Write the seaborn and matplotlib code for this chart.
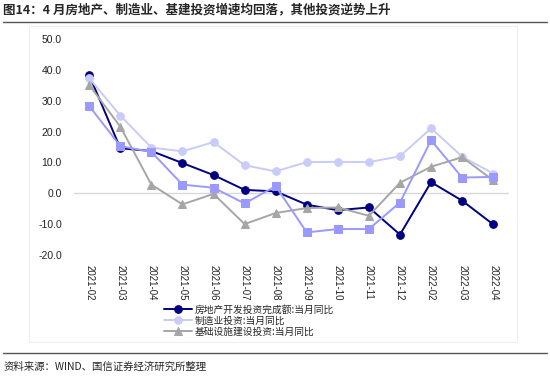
import numpy as np
import pandas as pd
import matplotlib.pyplot as plt
import matplotlib.patches as mpatches
import seaborn as sns

months = ['2021-02', '2021-03', '2021-04', '2021-05', '2021-06', '2021-07', '2021-08',
          '2021-09', '2021-10', '2021-11', '2021-12', '2022-02', '2022-03', '2022-04']
real_estate = [38.3, 14.6, 13.7, 9.8, 5.9, 1.1, 0.6, -3.7, -5.5, -4.6, -13.4, 3.6, -2.4, -10.1]
manufacturing = [37.3, 25.2, 14.8, 13.6, 16.6, 9.1, 7.1, 10.1, 10.2, 10.1, 12.0, 21.1, 11.9, 6.4]
infrastructure = [35.1, 21.6, 2.8, -3.6, -0.2, -10.0, -6.4, -4.8, -4.6, -7.3, 3.4, 8.6, 11.7, 4.2]
other = [28.3, 15.3, 13.4, 2.8, 1.8, -3.3, 2.3, -12.7, -11.6, -11.6, -3.0, 17.2, 5.1, 5.3]

names = ['房地产开发投资完成额:当月同比', '制造业投资:当月同比', '基础设施建设投资:当月同比', '其他投资:当月同比']

df = pd.DataFrame({'month': months, names[0]: real_estate, names[1]: manufacturing,
                   names[2]: infrastructure, names[3]: other})

sns.set_style('white')
plt.rcParams['font.family'] = ['Noto Sans CJK SC', 'DejaVu Sans']
plt.rcParams['axes.unicode_minus'] = False

fig = plt.figure(figsize=(5.5, 3.76), dpi=100)
ax = fig.add_axes([0.134, 0.322, 0.791, 0.574])

styles = [
    (names[0], '#000080', 'o', 5.5),
    (names[1], '#C9CBF8', 'o', 5.5),
    (names[2], '#A6A6A6', '^', 6),
    (names[3], '#9999FF', 's', 5.5),
]
for name, color, marker, ms in styles:
    sns.lineplot(data=df, x='month', y=name, ax=ax, color=color, marker=marker,
                 markersize=ms, markeredgecolor=color, linewidth=1.4, sort=False,
                 label=name if name != names[3] else '_nolegend_')

ax.axhline(0, color='#D9D9D9', lw=1, zorder=0)
ax.set_xlim(-0.5, len(months) - 0.5)
ax.set_ylim(-20, 50)
ax.set_yticks(np.arange(-20, 51, 10))
ax.set_yticklabels([f'{v:.1f}' for v in np.arange(-20, 51, 10)], fontsize=7.5,
                   color='#222222', family='Liberation Sans')
ax.set_xticks(range(len(months)))
ax.set_xticklabels(months, rotation=-90, fontsize=7, color='#222222', family='Liberation Sans')
ax.tick_params(axis='x', length=0, pad=7)
ax.tick_params(axis='y', length=0, pad=8.5)
ax.set_xlabel('')
ax.set_ylabel('')
for s in ax.spines.values():
    s.set_visible(False)

handles, labels = ax.get_legend_handles_labels()
ax.legend_.remove()
fig.legend(handles[:3], labels[:3], loc='upper left', bbox_to_anchor=(0.298, 0.19),
           frameon=False, fontsize=7, handlelength=2.9, handletextpad=0.3,
           labelspacing=0.12, borderaxespad=0, borderpad=0)

# chart frame, title rule and footer rule
fig.patches.append(mpatches.Rectangle((29 / 550, 1 - 342 / 376), 488 / 550, 316 / 376,
                                      transform=fig.transFigure, fill=False,
                                      edgecolor='#EFEFEF', lw=0.8))
fig.add_artist(plt.Line2D([0.005, 0.995], [1 - 22 / 376] * 2, transform=fig.transFigure,
                          color='#555555', lw=1))
fig.add_artist(plt.Line2D([0.005, 0.995], [1 - 353 / 376] * 2, transform=fig.transFigure,
                          color='#555555', lw=1))

fig.text(0.006, 1 - 10 / 376, '图14：4 月房地产、制造业、基建投资增速均回落，其他投资逆势上升',
         fontsize=9, fontweight='bold', va='center', ha='left')
fig.text(0.006, 1 - 367 / 376, '资料来源：WIND、国信证券经济研究所整理',
         fontsize=7.5, va='center', ha='left')

fig.savefig('out.png', dpi=100)
